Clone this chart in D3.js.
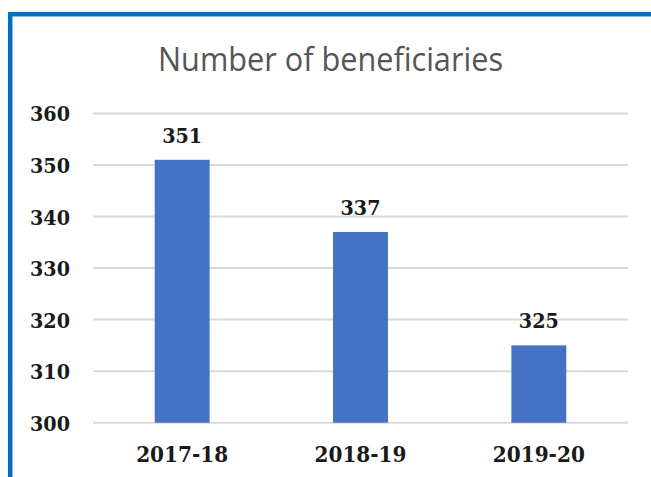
<html>
<head>
<meta charset="utf-8">
<title>Number of beneficiaries</title>
<style>
  body { margin: 0; background: #fff; }
</style>
</head>
<body>
<script src="https://cdn.jsdelivr.net/npm/d3@7"></script>
<script>
    var width = 651;
    var height = 477;

    var categories = ["2017-18", "2018-19", "2019-20"];
    var values = [351, 337, 315];          // bar heights as drawn
    var labels = ["351", "337", "325"];    // data labels as printed
    var tickValues = [300, 310, 320, 330, 340, 350, 360];

    var svg = d3.select('body')
            .append('svg')
            .attr('width', width)
            .attr('height', height);

    // blue frame, runs off the right and bottom edges
    svg.append('rect')
            .attr('x', 10.2)
            .attr('y', 14.2)
            .attr('width', 700)
            .attr('height', 600)
            .attr('fill', 'none')
            .attr('stroke', '#0070C0')
            .attr('stroke-width', 4.5);

    svg.append('text')
            .attr('x', 330.5)
            .attr('y', 70.5)
            .attr('text-anchor', 'middle')
            .attr('font-family', 'Open Sans, sans-serif')
            .attr('font-size', 33)
            .attr('fill', '#555555')
            .attr('textLength', 345)
            .attr('lengthAdjust', 'spacingAndGlyphs')
            .text('Number of beneficiaries');

    var x = d3.scaleBand()
            .domain(categories)
            .range([93, 628])
            .paddingInner(0.692)
            .paddingOuter(0.346);

    var y = d3.scaleLinear()
            .domain([300, 360])
            .range([422.7, 113.4]);

    // gridlines
    svg.append('g')
            .selectAll('line')
            .data(tickValues)
            .enter()
            .append('line')
            .attr('x1', 93)
            .attr('x2', 628)
            .attr('y1', function (d) { return y(d); })
            .attr('y2', function (d) { return y(d); })
            .attr('stroke', '#d9d9d9')
            .attr('stroke-width', 2);

    // y axis labels
    var yAxis = svg.append('g')
            .attr('transform', 'translate(70,0)')
            .call(d3.axisLeft(y).tickValues(tickValues).tickSize(0).tickPadding(0));
    yAxis.select('.domain').remove();
    yAxis.selectAll('text')
            .attr('font-family', 'DejaVu Serif, serif')
            .attr('font-weight', 'bold')
            .attr('font-size', 21)
            .attr('fill', '#1a1a1a')
            .attr('textLength', 40)
            .attr('lengthAdjust', 'spacingAndGlyphs')
            .attr('dy', '0.36em');

    // bars
    svg.selectAll('rect.bar')
            .data(values)
            .enter()
            .append('rect')
            .attr('class', 'bar')
            .attr('x', function (d, i) { return x(categories[i]); })
            .attr('y', function (d) { return y(d); })
            .attr('width', x.bandwidth())
            .attr('height', function (d) { return y(300) - y(d); })
            .attr('fill', '#4472C4');

    // data labels
    svg.selectAll('text.lbl')
            .data(values)
            .enter()
            .append('text')
            .attr('class', 'lbl')
            .attr('x', function (d, i) { return x(categories[i]) + x.bandwidth() / 2; })
            .attr('y', function (d) { return y(d) - 17; })
            .attr('text-anchor', 'middle')
            .attr('font-family', 'DejaVu Serif, serif')
            .attr('font-weight', 'bold')
            .attr('font-size', 21)
            .attr('fill', '#1a1a1a')
            .attr('textLength', 40)
            .attr('lengthAdjust', 'spacingAndGlyphs')
            .text(function (d, i) { return labels[i]; });

    // x axis labels
    var xAxis = svg.append('g')
            .attr('transform', 'translate(0,' + y(300) + ')')
            .call(d3.axisBottom(x).tickSize(0).tickPadding(0));
    xAxis.select('.domain').remove();
    xAxis.selectAll('text')
            .attr('font-family', 'DejaVu Serif, serif')
            .attr('font-weight', 'bold')
            .attr('font-size', 21.5)
            .attr('fill', '#1a1a1a')
            .attr('textLength', 92)
            .attr('lengthAdjust', 'spacingAndGlyphs')
            .attr('dy', null)
            .attr('y', 39);
</script>
</body>
</html>
